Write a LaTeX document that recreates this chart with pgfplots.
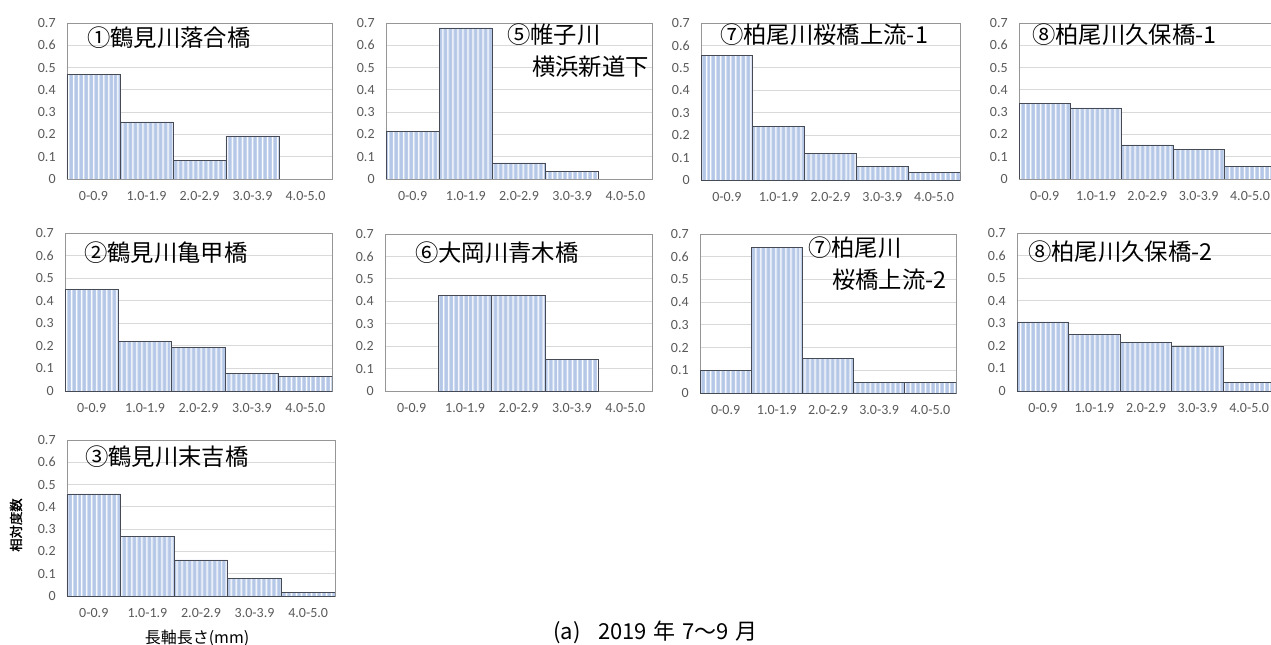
\documentclass[border=0pt]{standalone}
\usepackage{fontspec}
\setmainfont{Carlito}
\newfontfamily\jp{Noto Sans CJK JP}
\newfontfamily\jpb[FakeBold=1.5]{Noto Sans CJK JP}
\usepackage{pgfplots}
\pgfplotsset{compat=1.18}
\usetikzlibrary{patterns.meta}
\definecolor{barblue}{RGB}{180,199,231}
\definecolor{bardark}{RGB}{70,74,84}
\definecolor{gridgray}{RGB}{217,217,217}
\definecolor{boxgray}{RGB}{150,150,150}
\definecolor{labgray}{RGB}{89,89,89}
\pgfplotsset{
  panel/.style={
    scale only axis, anchor=north west,
    xmin=-0.5, xmax=4.5, ymin=0, ymax=0.7,
    xtick={0,1,2,3,4},
    xticklabels={0-0.9,1.0-1.9,2.0-2.9,3.0-3.9,4.0-5.0},
    ytick={0,0.1,0.2,0.3,0.4,0.5,0.6,0.7},
    yticklabels={0,0.1,0.2,0.3,0.4,0.5,0.6,0.7},
    major tick length=0pt,
    ymajorgrids, grid style={draw=gridgray, line width=0.6pt},
    axis line style={draw=boxgray, line width=0.6pt},
    tick label style={font=\fontsize{10.5}{12}\selectfont, text=labgray},
    yticklabel style={xshift=-5pt},
    xticklabel style={yshift=-6pt},
    ybar, bar width=1,
  },
  bars/.style={draw=bardark, line width=0.6pt,
    preaction={fill=barblue},
    pattern={Lines[angle=90,distance=4pt,line width=1.1pt]}, pattern color=white},
}
\newcommand{\ttl}{\jp\fontsize{17.5}{20}\selectfont}
\begin{document}
\begin{tikzpicture}
\useasboundingbox (0,0) rectangle (953.25pt,-483pt);
\clip (0,0) rectangle (953.25pt,-483pt);
% row 1
\begin{axis}[panel, at={(50.25pt,-17.25pt)}, width=198.75pt, height=117pt]
\addplot[bars] coordinates {(0,0.468) (1,0.256) (2,0.085) (3,0.193)};
\end{axis}
\begin{axis}[panel, at={(289.5pt,-17.25pt)}, width=199.5pt, height=117pt]
\addplot[bars] coordinates {(0,0.214) (1,0.678) (2,0.072) (3,0.034)};
\end{axis}
\begin{axis}[panel, at={(525.75pt,-17.25pt)}, width=194.25pt, height=117.75pt]
\addplot[bars] coordinates {(0,0.557) (1,0.237) (2,0.119) (3,0.061) (4,0.033)};
\end{axis}
\begin{axis}[panel, at={(764.25pt,-17.25pt)}, width=192.5pt, height=117pt]
\addplot[bars] coordinates {(0,0.337) (1,0.319) (2,0.153) (3,0.134) (4,0.057)};
\end{axis}
% row 2
\begin{axis}[panel, at={(48.75pt,-174.75pt)}, width=200.25pt, height=118.5pt]
\addplot[bars] coordinates {(0,0.448) (1,0.220) (2,0.193) (3,0.077) (4,0.065)};
\end{axis}
\begin{axis}[panel, at={(288.75pt,-175.5pt)}, width=200.25pt, height=117.75pt]
\addplot[bars] coordinates {(1,0.428) (2,0.428) (3,0.142)};
\end{axis}
\begin{axis}[panel, at={(525pt,-175.5pt)}, width=192pt, height=119.25pt]
\addplot[bars] coordinates {(0,0.101) (1,0.639) (2,0.153) (3,0.048) (4,0.048)};
\end{axis}
\begin{axis}[panel, at={(762.75pt,-174.75pt)}, width=193.5pt, height=118.5pt]
\addplot[bars] coordinates {(0,0.306) (1,0.251) (2,0.214) (3,0.197) (4,0.037)};
\end{axis}
% row 3
\begin{axis}[panel, at={(50.25pt,-330pt)}, width=201pt, height=117pt]
\addplot[bars] coordinates {(0,0.458) (1,0.269) (2,0.162) (3,0.078) (4,0.016)};
\end{axis}
% titles
\begin{scope}[every node/.style={inner sep=0pt, anchor=west, font=\ttl}]
\node at (65.25pt,-28.1pt) {①鶴見川落合橋};
\node at (380.25pt,-26.25pt) {⑤帷子川};
\node at (399pt,-50.25pt) {横浜新道下};
\node at (540pt,-26.25pt) {⑦柏尾川桜橋上流-1};
\node at (774pt,-26.25pt) {⑧柏尾川久保橋-1};
\node at (63pt,-189.75pt) {②鶴見川亀甲橋};
\node at (311.25pt,-189.75pt) {⑥大岡川青木橋};
\node at (606pt,-186pt) {⑦柏尾川};
\node at (624pt,-210pt) {桜橋上流-2};
\node at (771pt,-189pt) {⑧柏尾川久保橋-2};
\node at (63.75pt,-342.75pt) {③鶴見川末吉橋};
\end{scope}
\node[rotate=90, inner sep=0pt, font=\jpb\fontsize{10}{12}\selectfont] at (12pt,-393.75pt) {相対度数};
\node[inner sep=0pt, font=\jp\fontsize{12}{14}\selectfont] at (147.75pt,-479pt) {長軸長さ(mm)};
\node[inner sep=0pt, anchor=west, font=\jp\fontsize{16.5}{18}\selectfont] at (414.75pt,-474pt) {(a)\hspace{0.8em}2019\hspace{0.3em}年\hspace{0.3em}7～9\hspace{0.3em}月};
\end{tikzpicture}
\end{document}
